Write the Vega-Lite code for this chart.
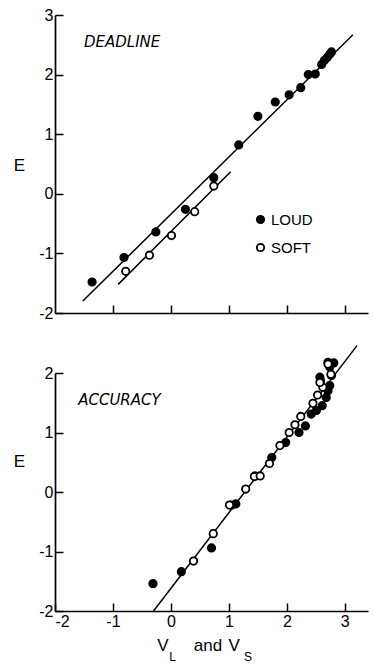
{
  "$schema": "https://vega.github.io/schema/vega-lite/v6.json",
  "padding": {"left": 13, "top": 7, "right": 2, "bottom": 4},
  "spacing": 21,
  "background": "white",
  "config": {
    "view": {"stroke": null},
    "font": "Liberation Sans",
    "axis": {
      "grid": false,
      "domain": true,
      "domainColor": "black",
      "domainWidth": 1.7,
      "ticks": true,
      "tickColor": "black",
      "tickWidth": 1.5,
      "tickSize": -8,
      "labelColor": "black",
      "labelFont": "Liberation Sans",
      "labelFontSize": 16,
      "labelExpr": "datum.value < 0 ? '-' + abs(datum.value) : '' + datum.value",
      "titleColor": "black",
      "titleFont": "Liberation Sans",
      "titleFontWeight": "normal"
    },
    "legend": {
      "labelFont": "Liberation Sans",
      "labelColor": "black"
    }
  },
  "datasets": {
    "deadline_points": [
      {"sound": "LOUD", "v": -1.36, "e": -1.48},
      {"sound": "LOUD", "v": -0.81, "e": -1.07},
      {"sound": "LOUD", "v": -0.26, "e": -0.64},
      {"sound": "LOUD", "v": 0.25, "e": -0.26},
      {"sound": "LOUD", "v": 0.74, "e": 0.27},
      {"sound": "LOUD", "v": 1.17, "e": 0.82},
      {"sound": "LOUD", "v": 1.5, "e": 1.3},
      {"sound": "LOUD", "v": 1.8, "e": 1.54},
      {"sound": "LOUD", "v": 2.04, "e": 1.66},
      {"sound": "LOUD", "v": 2.24, "e": 1.78},
      {"sound": "LOUD", "v": 2.37, "e": 2.0},
      {"sound": "LOUD", "v": 2.49, "e": 2.01},
      {"sound": "LOUD", "v": 2.6, "e": 2.17},
      {"sound": "LOUD", "v": 2.65, "e": 2.24},
      {"sound": "LOUD", "v": 2.7, "e": 2.29},
      {"sound": "LOUD", "v": 2.74, "e": 2.34},
      {"sound": "LOUD", "v": 2.77, "e": 2.38},
      {"sound": "SOFT", "v": -0.78, "e": -1.3},
      {"sound": "SOFT", "v": -0.37, "e": -1.03},
      {"sound": "SOFT", "v": 0.01, "e": -0.7},
      {"sound": "SOFT", "v": 0.41, "e": -0.3},
      {"sound": "SOFT", "v": 0.74, "e": 0.13}
    ],
    "deadline_fits": [
      {"sound": "LOUD", "v": -1.52, "e": -1.8},
      {"sound": "LOUD", "v": 3.14, "e": 2.67},
      {"sound": "SOFT", "v": -0.91, "e": -1.52},
      {"sound": "SOFT", "v": 1.03, "e": 0.37}
    ],
    "accuracy_points": [
      {"sound": "LOUD", "v": -0.31, "e": -1.54},
      {"sound": "LOUD", "v": 0.18, "e": -1.34},
      {"sound": "LOUD", "v": 0.7, "e": -0.94},
      {"sound": "LOUD", "v": 1.05, "e": -0.22},
      {"sound": "LOUD", "v": 1.12, "e": -0.2},
      {"sound": "LOUD", "v": 1.45, "e": 0.27},
      {"sound": "LOUD", "v": 1.74, "e": 0.58},
      {"sound": "LOUD", "v": 1.98, "e": 0.83},
      {"sound": "LOUD", "v": 2.21, "e": 1.0},
      {"sound": "LOUD", "v": 2.32, "e": 1.11},
      {"sound": "LOUD", "v": 2.42, "e": 1.31},
      {"sound": "LOUD", "v": 2.51, "e": 1.37},
      {"sound": "LOUD", "v": 2.61, "e": 1.45},
      {"sound": "LOUD", "v": 2.68, "e": 1.59},
      {"sound": "LOUD", "v": 2.71, "e": 1.7},
      {"sound": "LOUD", "v": 2.74, "e": 1.79},
      {"sound": "LOUD", "v": 2.77, "e": 1.96},
      {"sound": "LOUD", "v": 2.58, "e": 1.87},
      {"sound": "LOUD", "v": 2.57, "e": 1.93},
      {"sound": "LOUD", "v": 2.71, "e": 2.18},
      {"sound": "LOUD", "v": 2.81, "e": 2.17},
      {"sound": "LOUD", "v": 2.74, "e": 2.1},
      {"sound": "SOFT", "v": 0.39, "e": -1.16},
      {"sound": "SOFT", "v": 0.73, "e": -0.7},
      {"sound": "SOFT", "v": 1.01, "e": -0.22},
      {"sound": "SOFT", "v": 1.29, "e": 0.05},
      {"sound": "SOFT", "v": 1.44, "e": 0.26},
      {"sound": "SOFT", "v": 1.54, "e": 0.27},
      {"sound": "SOFT", "v": 1.7, "e": 0.48},
      {"sound": "SOFT", "v": 1.88, "e": 0.78},
      {"sound": "SOFT", "v": 2.04, "e": 1.0},
      {"sound": "SOFT", "v": 2.14, "e": 1.13},
      {"sound": "SOFT", "v": 2.24, "e": 1.27},
      {"sound": "SOFT", "v": 2.45, "e": 1.49},
      {"sound": "SOFT", "v": 2.53, "e": 1.63},
      {"sound": "SOFT", "v": 2.62, "e": 1.76},
      {"sound": "SOFT", "v": 2.57, "e": 1.84},
      {"sound": "SOFT", "v": 2.76, "e": 1.98},
      {"sound": "SOFT", "v": 2.71, "e": 2.15}
    ],
    "accuracy_fits": [
      {"sound": "ALL", "v": -0.3, "e": -2.0},
      {"sound": "ALL", "v": 3.21, "e": 2.46}
    ],
    "one": [{}]
  },
  "resolve": {"legend": {"fill": "independent"}},
  "vconcat": [
    {
      "width": 313,
      "height": 298,
      "layer": [
        {
          "data": {"name": "deadline_fits"},
          "mark": {"type": "line", "color": "black", "strokeWidth": 1.5},
          "encoding": {
            "x": {"field": "v", "type": "quantitative", "scale": {"domain": [-2, 3.4], "nice": false, "zero": false},
                  "axis": {"values": [-1, 0, 1, 2, 3], "labels": false, "title": null}},
            "y": {"field": "e", "type": "quantitative", "scale": {"domain": [-2, 3], "nice": false, "zero": false},
                  "axis": {"values": [-2, -1, 0, 1, 2, 3], "labelPadding": 10, "title": "E", "titleAngle": 0,
                           "titleFontSize": 17, "titleX": -36, "titleY": 150, "titleAlign": "center", "titleBaseline": "middle"}},
            "detail": {"field": "sound"}
          }
        },
        {
          "data": {"name": "deadline_points"},
          "mark": {"type": "point", "shape": "circle", "filled": true, "size": 55, "stroke": "black", "strokeWidth": 1.8, "opacity": 1},
          "encoding": {
            "x": {"field": "v", "type": "quantitative"},
            "y": {"field": "e", "type": "quantitative"},
            "fill": {"field": "sound", "type": "nominal",
                     "scale": {"domain": ["LOUD", "SOFT"], "range": ["black", "white"]},
                     "legend": {"orient": "none", "legendX": 198, "legendY": 197, "title": null,
                                "labelFontSize": 15, "symbolSize": 55, "symbolStrokeColor": "black",
                                "symbolStrokeWidth": 1.8, "rowPadding": 12, "labelOffset": 3}}
          }
        },
        {
          "data": {"name": "one"},
          "mark": {"type": "text", "text": "DEADLINE", "font": "DejaVu Sans", "fontStyle": "italic", "fontSize": 15, "align": "left", "baseline": "middle", "color": "black"},
          "encoding": {"x": {"datum": -1.5}, "y": {"datum": 2.55}}
        }
      ]
    },
    {
      "width": 313,
      "height": 238,
      "layer": [
        {
          "data": {"name": "accuracy_fits"},
          "mark": {"type": "line", "color": "black", "strokeWidth": 1.5},
          "encoding": {
            "x": {"field": "v", "type": "quantitative", "scale": {"domain": [-2, 3.4], "nice": false, "zero": false},
                  "axis": {"values": [-2, -1, 0, 1, 2, 3], "labelPadding": 10, "title": null}},
            "y": {"field": "e", "type": "quantitative", "scale": {"domain": [-2, 2], "nice": false, "zero": false},
                  "axis": {"values": [-2, -1, 0, 1, 2], "labelPadding": 10, "title": "E", "titleAngle": 0,
                           "titleFontSize": 17, "titleX": -36, "titleY": 88, "titleAlign": "center", "titleBaseline": "middle"}},
            "detail": {"field": "sound"}
          }
        },
        {
          "data": {"name": "accuracy_points"},
          "mark": {"type": "point", "shape": "circle", "filled": true, "size": 55, "stroke": "black", "strokeWidth": 1.8, "opacity": 1},
          "encoding": {
            "x": {"field": "v", "type": "quantitative"},
            "y": {"field": "e", "type": "quantitative"},
            "fill": {"field": "sound", "type": "nominal",
                     "scale": {"domain": ["LOUD", "SOFT"], "range": ["black", "white"]},
                     "legend": null}
          }
        },
        {
          "data": {"name": "one"},
          "mark": {"type": "text", "text": "ACCURACY", "font": "DejaVu Sans", "fontStyle": "italic", "fontSize": 15, "align": "left", "baseline": "middle", "color": "black"},
          "encoding": {"x": {"datum": -1.6}, "y": {"datum": 1.55}}
        },
        {
          "data": {"name": "one"},
          "mark": {"type": "text", "text": "V", "fontSize": 17, "align": "center", "baseline": "middle", "color": "black"},
          "encoding": {"x": {"datum": -0.14}, "y": {"datum": -2.58}}
        },
        {
          "data": {"name": "one"},
          "mark": {"type": "text", "text": "L", "fontSize": 12, "align": "center", "baseline": "middle", "color": "black"},
          "encoding": {"x": {"datum": 0.03}, "y": {"datum": -2.77}}
        },
        {
          "data": {"name": "one"},
          "mark": {"type": "text", "text": "and", "fontSize": 17, "align": "center", "baseline": "middle", "color": "black"},
          "encoding": {"x": {"datum": 0.64}, "y": {"datum": -2.58}}
        },
        {
          "data": {"name": "one"},
          "mark": {"type": "text", "text": "V", "fontSize": 17, "align": "center", "baseline": "middle", "color": "black"},
          "encoding": {"x": {"datum": 1.09}, "y": {"datum": -2.58}}
        },
        {
          "data": {"name": "one"},
          "mark": {"type": "text", "text": "S", "fontSize": 12, "align": "center", "baseline": "middle", "color": "black"},
          "encoding": {"x": {"datum": 1.33}, "y": {"datum": -2.77}}
        }
      ]
    }
  ]
}
